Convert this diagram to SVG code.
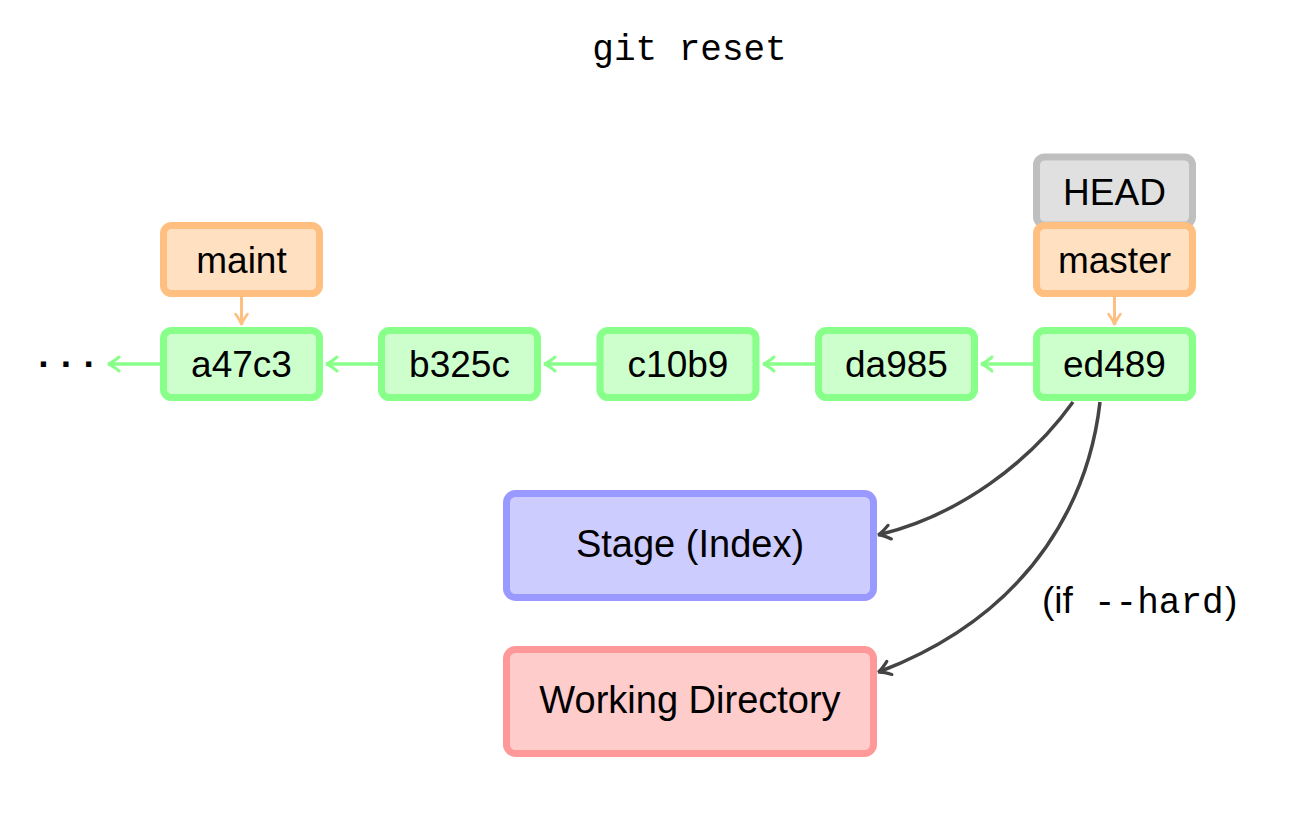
<svg xmlns="http://www.w3.org/2000/svg" width="1316" height="820" viewBox="0 0 1316 820">
<style>
  .lbl { font-family: "Liberation Sans", Arial, sans-serif; font-size: 37px; fill: #000; text-anchor: middle; }
  .big { font-size: 38px; }
  .mono { font-family: "Liberation Mono", "Courier New", monospace; font-size: 36px; fill: #000; }
  .commit { fill: #ccffcc; stroke: #88ff88; stroke-width: 7; }
  .branch { fill: #ffe0c0; stroke: #ffbf80; stroke-width: 7; }
  .head { fill: #e0e0e0; stroke: #bfbfbf; stroke-width: 7; }
  .stage { fill: #ccccff; stroke: #9999ff; stroke-width: 7; }
  .wd { fill: #ffcccc; stroke: #ff9999; stroke-width: 7; }
  .garrow { fill: none; stroke: #88ff88; stroke-width: 3.5; marker-end: url(#mg); }
  .oarrow { fill: none; stroke: #ffbf80; stroke-width: 3; marker-end: url(#mo); }
  .darrow { fill: none; stroke: #444444; stroke-width: 3.5; marker-end: url(#md); }
</style>
<defs>
  <marker id="mg" markerUnits="userSpaceOnUse" orient="auto" refX="0" refY="0" markerWidth="30" markerHeight="30" overflow="visible">
    <path d="M-9,-7 Q-2,-1 2,0 Q-2,1 -9,7" fill="none" stroke="#88ff88" stroke-width="3" stroke-linecap="round"/>
  </marker>
  <marker id="mo" markerUnits="userSpaceOnUse" orient="auto" refX="0" refY="0" markerWidth="30" markerHeight="30" overflow="visible">
    <path d="M-9,-6 Q-2,-1 2,0 Q-2,1 -9,6" fill="none" stroke="#ffbf80" stroke-width="2.6" stroke-linecap="round"/>
  </marker>
  <marker id="md" markerUnits="userSpaceOnUse" orient="auto" refX="0" refY="0" markerWidth="30" markerHeight="30" overflow="visible">
    <path d="M-10,-7 Q-2,-1 2,0 Q-2,1 -10,7" fill="none" stroke="#444444" stroke-width="3.2" stroke-linecap="round"/>
  </marker>
</defs>
<rect width="1316" height="820" fill="#ffffff"/>

<g id="title">
  <text class="mono" x="689.5" y="60" text-anchor="middle" font-size="37px">git reset</text>
</g>

<g id="ellipsis">
  <text class="lbl" x="67" y="377" font-size="40px" font-weight="bold" letter-spacing="0">· · ·</text>
</g>

<g id="HEAD">
  <rect class="head" x="1036.5" y="157" width="156" height="68" rx="8"/>
  <text class="lbl" x="1114.5" y="205">HEAD</text>
</g>
<g id="master">
  <rect class="branch" x="1036.5" y="225.5" width="156" height="68" rx="8"/>
  <text class="lbl" x="1114.5" y="273">master</text>
</g>
<g id="maint">
  <rect class="branch" x="163.5" y="225.5" width="156" height="68" rx="8"/>
  <text class="lbl" x="241.5" y="273">maint</text>
</g>

<g id="a47c3">
  <rect class="commit" x="163.5" y="330.5" width="156" height="67" rx="8"/>
  <text class="lbl" x="241.5" y="377">a47c3</text>
</g>
<g id="b325c">
  <rect class="commit" x="381.5" y="330.5" width="156" height="67" rx="8"/>
  <text class="lbl" x="459.5" y="377">b325c</text>
</g>
<g id="c10b9">
  <rect class="commit" x="600" y="330.5" width="156" height="67" rx="8"/>
  <text class="lbl" x="678" y="377">c10b9</text>
</g>
<g id="da985">
  <rect class="commit" x="818.5" y="330.5" width="156" height="67" rx="8"/>
  <text class="lbl" x="896.5" y="377">da985</text>
</g>
<g id="ed489">
  <rect class="commit" x="1036.5" y="330.5" width="156" height="67" rx="8"/>
  <text class="lbl" x="1114.5" y="377">ed489</text>
</g>

<g id="stage">
  <rect class="stage" x="506.5" y="493.5" width="367" height="104" rx="9"/>
  <text class="lbl big" x="690" y="557">Stage (Index)</text>
</g>
<g id="working-directory">
  <rect class="wd" x="506.5" y="649.5" width="367" height="104" rx="9"/>
  <text class="lbl big" x="690" y="713">Working Directory</text>
</g>

<g id="connectors">
  <line class="garrow" x1="160" y1="364" x2="110" y2="364"/>
  <line class="garrow" x1="378" y1="364" x2="328" y2="364"/>
  <line class="garrow" x1="597" y1="364" x2="546" y2="364"/>
  <line class="garrow" x1="815" y1="364" x2="765" y2="364"/>
  <line class="garrow" x1="1033" y1="364" x2="983" y2="364"/>
  <line class="oarrow" x1="241.5" y1="297" x2="241.5" y2="323"/>
  <line class="oarrow" x1="1114.5" y1="297" x2="1114.5" y2="323"/>
  <path class="darrow" d="M1073,402 C1030,462 960,515 880,534.5"/>
  <path class="darrow" d="M1100,402 C1090,490 1040,610 880,671.5"/>
  <text x="1042" y="613" font-family="Liberation Sans, Arial, sans-serif" font-size="37px"><tspan>(if</tspan><tspan class="mono" x="1094">--hard</tspan><tspan x="1225">)</tspan></text>
</g>
</svg>
